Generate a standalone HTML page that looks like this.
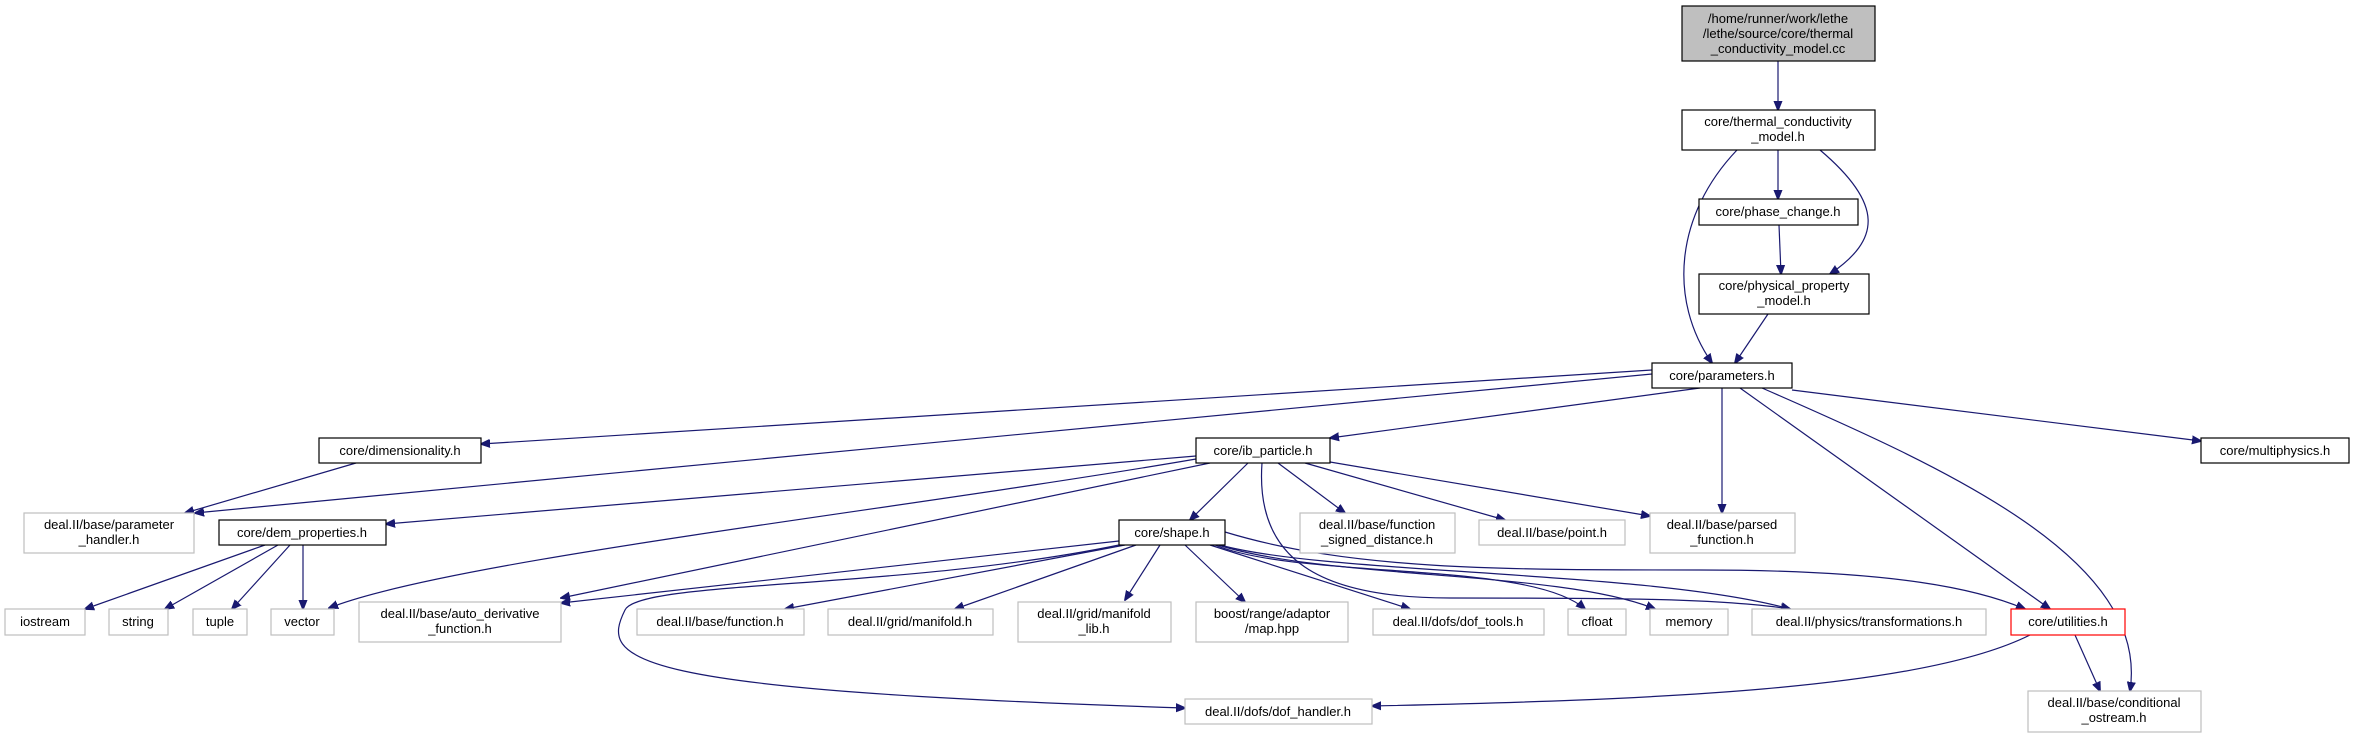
<!DOCTYPE html>
<html><head><meta charset="utf-8"><style>
html,body{margin:0;padding:0;background:#fff;}
svg{display:block;}
text{font-family:"Liberation Sans",sans-serif;font-size:13px;fill:#000;text-anchor:middle;}
.e{fill:none;stroke:#191970;stroke-width:1.2;}
.n{fill:#fff;stroke:#000;stroke-width:1.2;}
.g{fill:#fff;stroke:#bfbfbf;stroke-width:1.2;}
</style></head><body>
<svg width="2355" height="737" viewBox="0 0 2355 737" xmlns="http://www.w3.org/2000/svg">
<defs><marker id="a" viewBox="0 0 10 10" refX="9" refY="5" markerWidth="10" markerHeight="10" markerUnits="userSpaceOnUse" orient="auto"><path d="M0,1 L10,5 L0,9 Z" fill="#191970" stroke="#191970"/></marker></defs>
<g marker-end="url(#a)">
<path class="e" d="M1778,61 L1778,110"/>
<path class="e" d="M1778,150 L1778,199"/>
<path class="e" d="M1820,150 C1885,205 1880,240 1830,274"/>
<path class="e" d="M1737,150 C1675,215 1668,300 1712,363"/>
<path class="e" d="M1779,225 L1781,274"/>
<path class="e" d="M1768,314 L1735,363"/>
<path class="e" d="M1652,370 L481,444"/>
<path class="e" d="M1652,374 L195,513"/>
<path class="e" d="M1700,388 L1330,438"/>
<path class="e" d="M1722,388 L1722,513"/>
<path class="e" d="M1740,388 L2050,609"/>
<path class="e" d="M1762,388 C1950,470 2150,560 2130,691"/>
<path class="e" d="M1792,390 L2201,441"/>
<path class="e" d="M356,463 L185,513"/>
<path class="e" d="M1196,456 L386,524"/>
<path class="e" d="M1196,459 C900,510 450,560 329,608"/>
<path class="e" d="M1210,463 L561,598"/>
<path class="e" d="M1248,463 L1190,520"/>
<path class="e" d="M1278,463 L1345,513"/>
<path class="e" d="M1305,463 L1505,520"/>
<path class="e" d="M1330,462 L1650,516"/>
<path class="e" d="M1262,463 C1255,560 1320,598 1450,598 C1600,598 1720,598 1790,609"/>
<path class="e" d="M265,545 L85,609"/>
<path class="e" d="M278,545 L165,609"/>
<path class="e" d="M290,545 L232,609"/>
<path class="e" d="M303,545 L303,609"/>
<path class="e" d="M1119,541 L561,603"/>
<path class="e" d="M1119,545 C900,590 640,580 625,610 C600,660 620,690 1185,708"/>
<path class="e" d="M1125,545 L785,609"/>
<path class="e" d="M1136,545 L955,609"/>
<path class="e" d="M1160,545 L1125,600"/>
<path class="e" d="M1185,545 L1245,602"/>
<path class="e" d="M1210,545 L1410,609"/>
<path class="e" d="M1215,545 C1300,580 1530,560 1585,609"/>
<path class="e" d="M1218,545 C1330,580 1560,570 1655,609"/>
<path class="e" d="M1220,545 C1330,575 1650,570 1790,609"/>
<path class="e" d="M1225,532 C1350,570 1500,570 1700,570 C1900,570 1980,590 2025,609"/>
<path class="e" d="M2030,635 C1920,690 1650,700 1372,706"/>
<path class="e" d="M2075,635 L2100,691"/>
</g>
<rect x="1682" y="6" width="193" height="55" fill="#bfbfbf" stroke="#000" stroke-width="1.2"/>
<text x="1778" y="23">/home/runner/work/lethe</text>
<text x="1778" y="38">/lethe/source/core/thermal</text>
<text x="1778" y="53">_conductivity_model.cc</text>
<rect class="n" x="1682" y="110" width="193" height="40"/><text x="1778" y="126">core/thermal_conductivity</text><text x="1778" y="141">_model.h</text>
<rect class="n" x="1699" y="199" width="159" height="26"/><text x="1778" y="216">core/phase_change.h</text>
<rect class="n" x="1699" y="274" width="170" height="40"/><text x="1784" y="290">core/physical_property</text><text x="1784" y="305">_model.h</text>
<rect class="n" x="1652" y="363" width="140" height="25"/><text x="1722" y="380">core/parameters.h</text>
<rect class="n" x="319" y="438" width="162" height="25"/><text x="400" y="455">core/dimensionality.h</text>
<rect class="n" x="1196" y="438" width="134" height="25"/><text x="1263" y="455">core/ib_particle.h</text>
<rect class="n" x="2201" y="438" width="148" height="25"/><text x="2275" y="455">core/multiphysics.h</text>
<rect class="g" x="24" y="513" width="170" height="40"/><text x="109" y="529">deal.II/base/parameter</text><text x="109" y="544">_handler.h</text>
<rect class="n" x="219" y="520" width="167" height="25"/><text x="302" y="537">core/dem_properties.h</text>
<rect class="n" x="1119" y="520" width="106" height="25"/><text x="1172" y="537">core/shape.h</text>
<rect class="g" x="1300" y="513" width="155" height="40"/><text x="1377" y="529">deal.II/base/function</text><text x="1377" y="544">_signed_distance.h</text>
<rect class="g" x="1479" y="520" width="146" height="25"/><text x="1552" y="537">deal.II/base/point.h</text>
<rect class="g" x="1650" y="513" width="145" height="40"/><text x="1722" y="529">deal.II/base/parsed</text><text x="1722" y="544">_function.h</text>
<rect class="g" x="5" y="609" width="80" height="26"/><text x="45" y="626">iostream</text>
<rect class="g" x="109" y="609" width="59" height="26"/><text x="138" y="626">string</text>
<rect class="g" x="193" y="609" width="54" height="26"/><text x="220" y="626">tuple</text>
<rect class="g" x="271" y="609" width="63" height="26"/><text x="302" y="626">vector</text>
<rect class="g" x="359" y="602" width="202" height="40"/><text x="460" y="618">deal.II/base/auto_derivative</text><text x="460" y="633">_function.h</text>
<rect class="g" x="637" y="609" width="167" height="26"/><text x="720" y="626">deal.II/base/function.h</text>
<rect class="g" x="828" y="609" width="165" height="26"/><text x="910" y="626">deal.II/grid/manifold.h</text>
<rect class="g" x="1018" y="602" width="153" height="40"/><text x="1094" y="618">deal.II/grid/manifold</text><text x="1094" y="633">_lib.h</text>
<rect class="g" x="1196" y="602" width="152" height="40"/><text x="1272" y="618">boost/range/adaptor</text><text x="1272" y="633">/map.hpp</text>
<rect class="g" x="1373" y="609" width="171" height="26"/><text x="1458" y="626">deal.II/dofs/dof_tools.h</text>
<rect class="g" x="1568" y="609" width="58" height="26"/><text x="1597" y="626">cfloat</text>
<rect class="g" x="1650" y="609" width="78" height="26"/><text x="1689" y="626">memory</text>
<rect class="g" x="1752" y="609" width="234" height="26"/><text x="1869" y="626">deal.II/physics/transformations.h</text>
<rect x="2011" y="609" width="114" height="26" fill="#fff" stroke="#ff0000" stroke-width="1.2"/><text x="2068" y="626">core/utilities.h</text>
<rect class="g" x="1185" y="699" width="187" height="25"/><text x="1278" y="716">deal.II/dofs/dof_handler.h</text>
<rect class="g" x="2028" y="691" width="173" height="41"/><text x="2114" y="707">deal.II/base/conditional</text><text x="2114" y="722">_ostream.h</text>
</svg>
</body></html>
